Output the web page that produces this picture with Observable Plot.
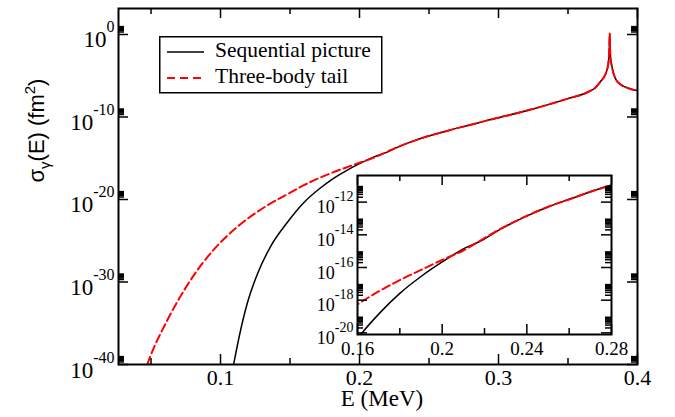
<!DOCTYPE html>
<html><head><meta charset="utf-8">
<script src="https://cdn.jsdelivr.net/npm/d3@7"></script>
<script src="https://cdn.jsdelivr.net/npm/@observablehq/plot@0.6"></script>
<style>
html,body{margin:0;padding:0;background:#fff;}
#wrap{position:relative;width:675px;height:417px;overflow:hidden;}
#mainbox{position:absolute;left:0;top:0;}
#inset{position:absolute;left:300px;top:165px;}
#wrap #legend{position:absolute;left:159px;top:36px;}
</style>
</head><body>
<div id="wrap"><div id="mainbox"></div><div id="inset"></div>
<svg id="legend" width="224" height="58" xmlns="http://www.w3.org/2000/svg">
<rect x="0.75" y="0.75" width="222" height="56" fill="#fff" stroke="#000" stroke-width="1.5"/>
<line x1="8" x2="45" y1="16" y2="16" stroke="#000" stroke-width="1.5"/>
<text x="56" y="21" id="lg1" font-family="Liberation Serif" font-size="21.5"></text>
<line x1="8" x2="45" y1="42" y2="42" stroke="#ff0000" stroke-width="2" stroke-dasharray="8,5"/>
<text x="56" y="47" id="lg2" font-family="Liberation Serif" font-size="21.5"></text>
</svg>
</div>
<script>
// ---------- data ----------
const seriesNames = ["Sequential picture", "Three-body tail"];
const seqE = [0.1094, 0.1144, 0.1192, 0.1264, 0.1360, 0.1480, 0.1600, 0.1709, 0.1800, 0.1900, 0.2000, 0.2100, 0.2181, 0.2276, 0.2386, 0.2496, 0.2608, 0.2718, 0.2800, 0.2900, 0.3014, 0.3254, 0.3494, 0.3640, 0.3700, 0.3734, 0.3770, 0.3785, 0.3793, 0.3797, 0.3800, 0.3803, 0.3807, 0.3815, 0.3829, 0.3850, 0.3878, 0.3950, 0.4000];
const seqLog = [-40.0, -35.88, -32.61, -29.09, -25.70, -22.79, -20.36, -18.73, -17.58, -16.55, -15.66, -14.86, -14.38, -13.65, -12.93, -12.31, -11.79, -11.29, -10.95, -10.5, -10.03, -9.0, -7.8, -7.0, -6.4, -5.7, -4.8, -4.0, -3.0, -1.8, 0.15, -1.8, -3.0, -3.8, -4.8, -5.6, -6.05, -6.6, -6.8];
const tailE = [0.0473, 0.0482, 0.0616, 0.0748, 0.0880, 0.1024, 0.1168, 0.1335, 0.1504, 0.1600, 0.1709, 0.1800, 0.1900, 0.2000, 0.2100, 0.2181, 0.2276, 0.2386, 0.2496, 0.2608, 0.2718, 0.2800, 0.2900, 0.3014, 0.3254, 0.3494, 0.3640, 0.3700, 0.3734, 0.3770, 0.3785, 0.3793, 0.3797, 0.3800, 0.3803, 0.3807, 0.3815, 0.3829, 0.3850, 0.3878, 0.3950, 0.4000];
const tailLog = [-40.0, -39.58, -34.67, -30.73, -27.52, -24.79, -22.67, -20.73, -19.15, -18.26, -17.4, -16.77, -16.15, -15.54, -14.96, -14.35, -13.63, -12.92, -12.31, -11.79, -11.29, -10.95, -10.5, -10.03, -9.0, -7.8, -7.0, -6.4, -5.7, -4.8, -4.0, -3.0, -1.8, 0.15, -1.8, -3.0, -3.8, -4.8, -5.6, -6.05, -6.6, -6.8];

const mainXTicks = [0.1, 0.2, 0.3, 0.4];
const mainXMinor = [0.05, 0.15, 0.25, 0.35];
const mainYExps = [-40, -30, -20, -10, 0];
const insetXTicks = [0.16, 0.2, 0.24, 0.28];
const insetXMinor = [0.18, 0.22, 0.26];
const insetYExps = [-20, -18, -16, -14, -12];
const xLabel = "E (MeV)";
const yLabel = "σγ(E) (fm2)";

// ---------- build ----------
const serif = "Liberation Serif";
const sans = "Liberation Sans";
const seq = seqE.map((E, i) => ({E, s: 10 ** seqLog[i]}));
const tail = tailE.map((E, i) => ({E, s: 10 ** tailLog[i]}));
const mainYTicks = mainYExps.map(k => 10 ** k);
const mainYMinor = mainYExps.flatMap(k => [2,3,4,5,6,7,8,9].map(m => m * 10 ** k));
const insetYTicks = insetYExps.map(k => 10 ** k);
const insetYMinor = insetYExps.flatMap(k => [2,3,4,5,6,7,8,9].map(m => m * 10 ** k));

document.getElementById("lg1").textContent = seriesNames[0];
document.getElementById("lg2").textContent = seriesNames[1];

const ns = "http://www.w3.org/2000/svg";
function setSup(t, base, exp, baseDy, supDy, supSize) {
  t.setAttribute("y", "0");
  t.textContent = "";
  const a = document.createElementNS(ns, "tspan");
  a.setAttribute("dy", baseDy); a.textContent = base;
  const b = document.createElementNS(ns, "tspan");
  b.setAttribute("dy", supDy); b.setAttribute("font-size", supSize); b.textContent = exp;
  t.appendChild(a); t.appendChild(b);
}

function tickMarks(xMaj, xMin, yMaj, yMin, iw, ih, majL, minL) {
  const sw = 1.5;
  return [
    Plot.tickX(xMaj, {x: d => d, insetTop: ih - majL, strokeWidth: sw}),
    Plot.tickX(xMaj, {x: d => d, insetBottom: ih - majL, strokeWidth: sw}),
    Plot.tickX(xMin, {x: d => d, insetTop: ih - minL, strokeWidth: sw}),
    Plot.tickX(xMin, {x: d => d, insetBottom: ih - minL, strokeWidth: sw}),
    Plot.tickY(yMaj, {y: d => d, insetRight: iw - majL, strokeWidth: sw}),
    Plot.tickY(yMaj, {y: d => d, insetLeft: iw - majL, strokeWidth: sw}),
    Plot.tickY(yMin, {y: d => d, insetRight: iw - minL, strokeWidth: sw}),
    Plot.tickY(yMin, {y: d => d, insetLeft: iw - minL, strokeWidth: sw})
  ];
}

const W = 675, H = 417, mL = 118, mR = 38, mT = 8, mB = 53;
const iw = W - mL - mR, ih = H - mT - mB;
const main = Plot.plot({
  width: W, height: H, marginLeft: mL, marginRight: mR, marginTop: mT, marginBottom: mB,
  style: {fontFamily: serif, background: "transparent", overflow: "visible"},
  x: {domain: [0.0266, 0.4]},
  y: {type: "log", domain: [1e-40, 10 ** 3.15]},
  marks: [
    Plot.line(seq, {x: "E", y: "s", stroke: "black", strokeWidth: 1.5, curve: "monotone-x", clip: true}),
    Plot.line(tail, {x: "E", y: "s", stroke: "#ff0000", strokeWidth: 2, strokeDasharray: "8,4", curve: "monotone-x", clip: true}),
    ...tickMarks(mainXTicks, mainXMinor, mainYTicks, mainYMinor, iw, ih, 10, 6),
    Plot.frame({strokeWidth: 2}),
    Plot.axisX({ticks: mainXTicks, tickFormat: d => String(d), tickSize: 0, tickPadding: 5, fontSize: 22, fontFamily: serif, label: null}),
    Plot.axisY({ticks: mainYTicks, tickFormat: d => String(Math.round(Math.log10(d))), tickSize: 0, tickPadding: 4, fontSize: 23, fontFamily: serif, label: null}),
    Plot.text([xLabel], {text: d => d, frameAnchor: "bottom", lineAnchor: "bottom", dy: 41, dx: 4, fontSize: 23, fontFamily: serif}),
    Plot.text([yLabel], {text: d => d, frameAnchor: "left", rotate: -90, dx: -82, dy: -4, fontSize: 22, fontFamily: sans})
  ]
});
document.getElementById("mainbox").appendChild(main);
main.querySelectorAll('[aria-label^="y-axis tick label"] text').forEach(t => setSup(t, "10", t.textContent, "13px", "-15px", "16px"));
main.querySelectorAll('text').forEach(t => {
  if (t.textContent !== yLabel) return;
  t.setAttribute("y", "0.32em");
  t.textContent = "";
  const parts = [["σ", null, null], ["γ", "6px", "15px"], ["(E) (fm", "-6px", null], ["2", "-9px", "15px"], [")", "9px", null]];
  for (const [s, dy, fs] of parts) {
    const sp = document.createElementNS(ns, "tspan");
    if (dy) sp.setAttribute("dy", dy);
    if (fs) sp.setAttribute("font-size", fs);
    sp.textContent = s; t.appendChild(sp);
  }
});

const IW = 325, IH = 200, imL = 57, imR = 14, imT = 10, imB = 31;
const iiw = IW - imL - imR, iih = IH - imT - imB;
const inset = Plot.plot({
  width: IW, height: IH, marginLeft: imL, marginRight: imR, marginTop: imT, marginBottom: imB,
  style: {fontFamily: serif, background: "transparent", overflow: "visible"},
  x: {domain: [0.16, 0.28]},
  y: {type: "log", domain: [10 ** -20.1, 10 ** -10.37]},
  marks: [
    Plot.frame({fill: "white"}),
    Plot.line(seq, {x: "E", y: "s", stroke: "black", strokeWidth: 1.5, curve: "monotone-x", clip: true}),
    Plot.line(tail, {x: "E", y: "s", stroke: "#ff0000", strokeWidth: 2, strokeDasharray: "8,4", curve: "monotone-x", clip: true}),
    ...tickMarks(insetXTicks, insetXMinor, insetYTicks, insetYMinor, iiw, iih, 10, 6),
    Plot.frame({strokeWidth: 2}),
    Plot.axisX({ticks: insetXTicks, tickFormat: d => String(d), tickSize: 0, tickPadding: 7, fontSize: 19, fontFamily: serif, label: null}),
    Plot.axisY({ticks: insetYTicks, tickFormat: d => String(Math.round(Math.log10(d))), tickSize: 0, tickPadding: 4, fontSize: 18, fontFamily: serif, label: null})
  ]
});
document.getElementById("inset").appendChild(inset);
inset.querySelectorAll('[aria-label^="y-axis tick label"] text').forEach(t => setSup(t, "10", t.textContent, "11px", "-12px", "14px"));
</script>
</body></html>
